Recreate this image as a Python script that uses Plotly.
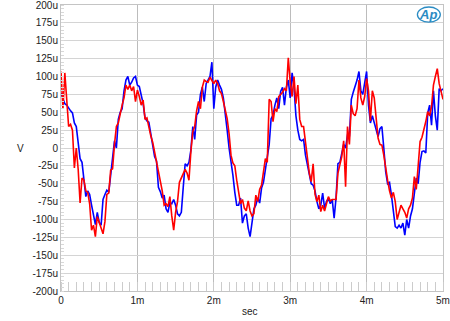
import plotly.graph_objects as go

# time axis in milliseconds (sample spacing 0.025 ms, 0 .. 5 ms)
time_ms = [round(i * 0.025, 3) for i in range(201)]

# channel values in microvolts
blue_uV = [
    77, 68, 62, 60, 55, 52, 49, 35, 30, 5, -15, -20, -45, -68, -60, -65, -80, -92, -107, -90,
    -104, -108, -72, -65, -59, -62, -40, -20, 10, 0, 40, 50, 55, 80, 95,
    100, 88, 92, 98, 100, 88, 86, 75, 62, 42, 38, 36, 18, 5, -12, -18, -55, -61, -70, -66,
    -85, -90, -76, -78, -72, -80, -92, -95, -90, -55, -22, -25, -20, -3,
    30, 12, 46, 50, 75, 85, 65, 90, 95, 100, 120, 55, 85, 95, 88, 82, 70, 50, 25, 0,
    -18, -38, -62, -80, -80, -70, -105, -95, -92, -112, -124, -100,
    -85, -80, -70, -77, -56, -48, -29, -10, 5, 41, 46, 60, 70, 55, 79, 85, 60, 85, 95, 70,
    105, 85, 45, 25, 12, 10, 12, -10, -25, -40, -50, -52,
    -60, -75, -85, -80, -63, -84, -75, -70, -78, -72, -98, -70, -22, -20, -5, 5, 0, 18, 16,
    68, 78, 86, 95, 107, 80, 75, 90, 107, 60, 35, 45, 35, 25, 16,
    27, 30, 0, -33, -50, -48, -66, -90, -110, -112, -108, -112, -105, -122, -100, -112, -95,
    -85, -60, -42, -50, -20, -5, -4, -7, 49, 60, 32, 80, 45, 25, 83, 80, 83,
]
red_uV = [
    107, 55, 105, 62, 30, 33, 25, -28, 0, -30, -77, -42, -45, -60, -62, -78, -115, -108, -124, -96,
    -106, -112, -120, -103, -65, -63, -31, -29, 5, 30, 35, 50, 60, 70, 88,
    82, 88, 80, 86, 65, 81, 72, 60, 67, 40, 42, 27, 17, 8, -5, -18, -32, -42, -60, -80,
    -78, -82, -68, -95, -115, -90, -75, -48, -42, -38, -30, -35, -45, -5,
    23, 30, 52, 65, 55, 85, 95, 93, 92, 99, 95, 90, 95, 90, 80, 76, 65, 55, 41, 20,
    -10, -21, -25, -45, -65, -78, -72, -84, -88, -74, -88, -95,
    -92, -66, -75, -58, -52, -29, -15, -20, 68, 65, 37, 55, 51, 72, 75, 78, 83, 80, 126, 92,
    72, 100, 62, 88, 40, 30, 30, 10, -10, -35, -47, -22,
    -65, -75, -66, -89, -80, -88, -78, -68, -74, -72, -72, -72, -35, -25, -12, 10, -54, 30, 5,
    60, 48, 45, 55, 95, 70, 60, 72, 97, 80, 38, 80, 70, 42, 14,
    5, 4, -10, -31, -45, -60, -70, -62, -75, -100, -90, -80, -85, -90, -98, -85, -80,
    -70, -40, -58, -25, 9, 15, 25, 37, 51, 45, 58, 88, 100, 111, 90, 80, 68,
]

y_tick_vals = [200, 175, 150, 125, 100, 75, 50, 25, 0, -25, -50, -75, -100, -125, -150, -175, -200]
y_tick_text = ["200u", "175u", "150u", "125u", "100u", "75u", "50u", "25u", "0",
               "-25u", "-50u", "-75u", "-100u", "-125u", "-150u", "-175u", "-200u"]
x_tick_vals = [0, 1, 2, 3, 4, 5]
x_tick_text = ["0", "1m", "2m", "3m", "4m", "5m"]

FONT = "Liberation Sans, Arial, sans-serif"

fig = go.Figure()
fig.add_trace(go.Scatter(x=time_ms, y=blue_uV, mode="lines",
                         line=dict(color="#0000ff", width=1.6), hoverinfo="skip"))
fig.add_trace(go.Scatter(x=time_ms, y=red_uV, mode="lines",
                         line=dict(color="#ff0000", width=1.6), hoverinfo="skip"))

fig.update_layout(
    width=450, height=321,
    margin=dict(l=61, r=7, t=5, b=30, autoexpand=False),
    paper_bgcolor="white", plot_bgcolor="white",
    showlegend=False,
    font=dict(family=FONT, size=10, color="#222222"),
)
fig.update_xaxes(
    range=[0, 5], tickvals=x_tick_vals, ticktext=x_tick_text,
    showgrid=True, gridcolor="#bcbcbc", gridwidth=1,
    showline=True, linecolor="#c4c4c4", linewidth=1, mirror=True,
    zeroline=False, ticks="", automargin=False, ticklabeloverflow="allow",
    minor=dict(dtick=0.1, ticks="inside", ticklen=9, tickcolor="#cccccc", showgrid=False),
    tickfont=dict(size=10),
)
fig.update_yaxes(
    range=[-200, 200], tickvals=y_tick_vals, ticktext=y_tick_text,
    showgrid=True, gridcolor="#d4d4d4", gridwidth=1,
    showline=True, linecolor="#c4c4c4", linewidth=1, mirror=True,
    zeroline=False, ticks="", automargin=False, ticklabeloverflow="allow",
    minor=dict(dtick=5, ticks="inside", ticklen=3, tickcolor="#d8d8d8", showgrid=False),
    tickfont=dict(size=10),
)

# axis titles
fig.add_annotation(text="sec", xref="paper", yref="paper", x=0.495, y=-0.073,
                   xanchor="center", yanchor="middle", showarrow=False,
                   font=dict(family=FONT, size=10, color="#222222"))
fig.add_annotation(text="V", xref="paper", yref="paper", x=-0.107, y=0.5,
                   xanchor="center", yanchor="middle", showarrow=False,
                   font=dict(family=FONT, size=10, color="#222222"))

# Audio Precision logo (top right)
fig.add_shape(type="circle", xref="paper", yref="paper",
              x0=0.933, x1=0.993, y0=0.94, y1=0.993,
              line=dict(color="#2b8cc4", width=1.3))
fig.add_annotation(text="<b><i>Ap</i></b>", xref="paper", yref="paper",
                   x=0.962, y=0.966, xanchor="center", yanchor="middle", showarrow=False,
                   font=dict(family=FONT, size=13, color="#2b8cc4"))

fig.write_html("out.html", config={"displayModeBar": False},
               post_script="document.body.style.margin='0';document.body.style.overflow='hidden';")
